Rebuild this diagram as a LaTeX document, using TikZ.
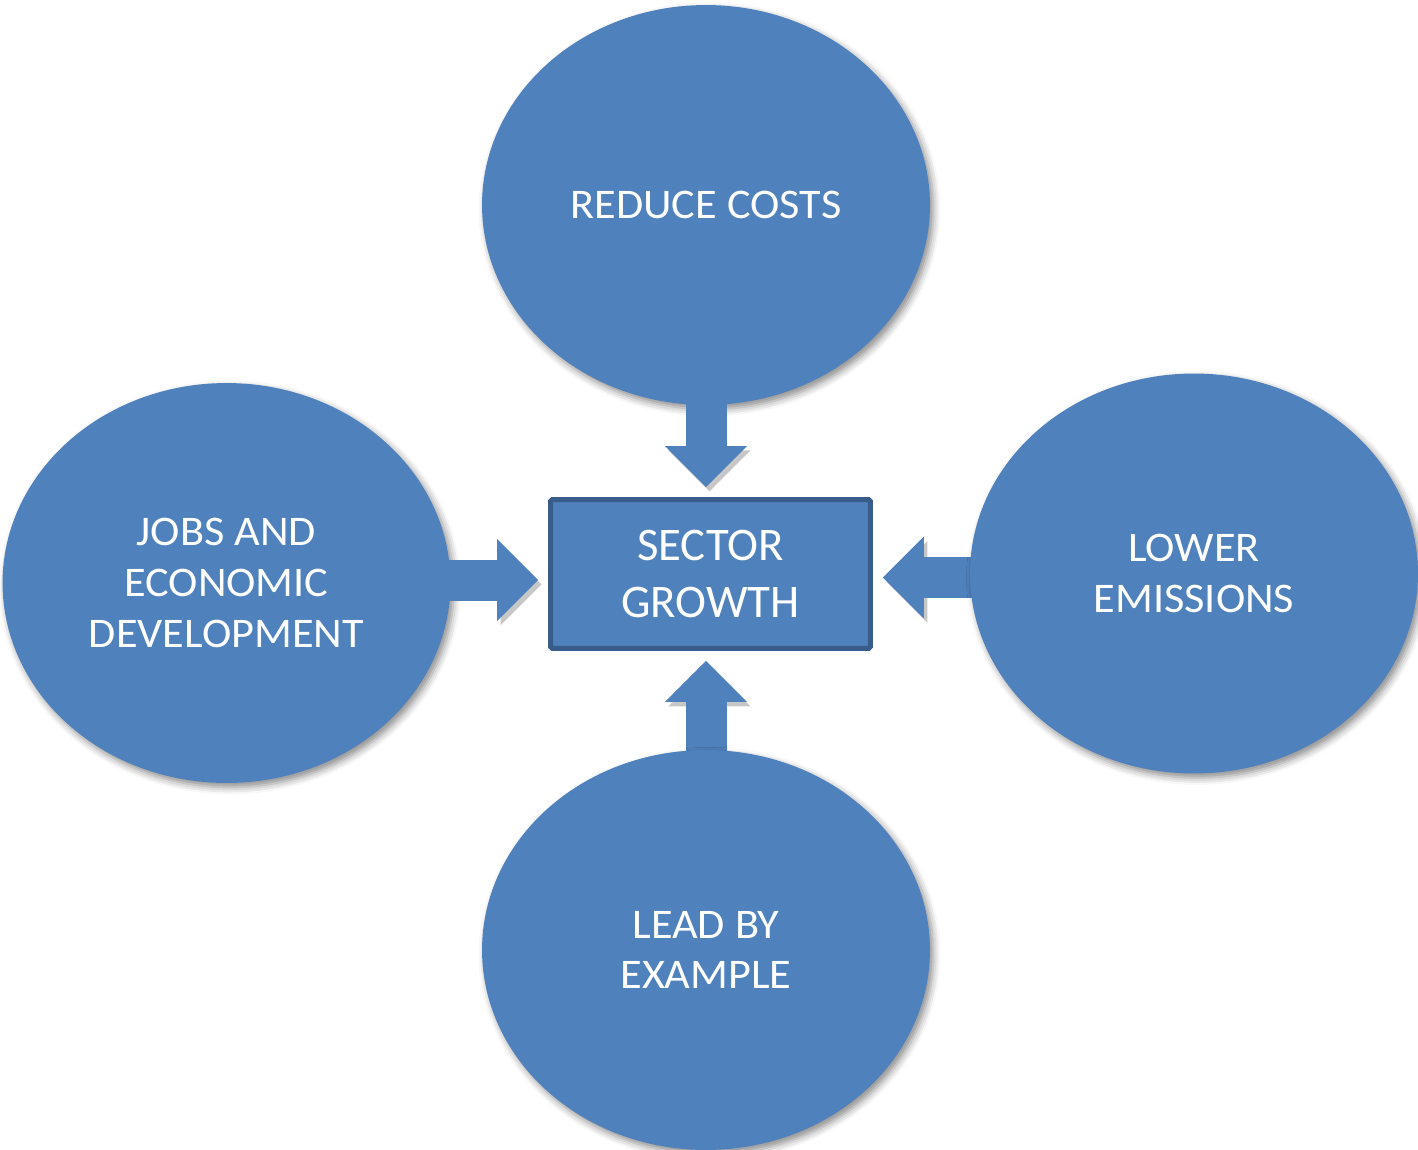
\documentclass[tikz,border=0pt]{standalone}
\usepackage{fontspec}
\setmainfont{Carlito}
\newfontfamily\goalfont[FakeStretch=1.05]{Carlito}
\usetikzlibrary{shapes.geometric,arrows.meta,shadows.blur,backgrounds}
\definecolor{goalblue}{HTML}{4F81BD}
\definecolor{goaledge}{HTML}{385D8A}
\tikzset{
  goal/.style={ellipse, fill=goalblue, minimum width=8.96cm, minimum height=8cm,
    inner sep=0pt, text=white, align=center, font=\goalfont\fontsize{24}{28.9}\selectfont,
    blur shadow={shadow xshift=2pt, shadow yshift=-2.5pt, shadow blur radius=4pt, shadow opacity=45}},
  hub/.style={rectangle, fill=goalblue, draw=goaledge, line width=0.1cm, rounded corners=1pt,
    minimum width=6.4cm, minimum height=2.98cm, text=white, align=center,
    font=\fontsize{26.6}{32.3}\selectfont},
  push/.style={draw=goalblue, line width=0.82cm, shorten <=-0.1cm, shorten >=0.2cm,
    -{Triangle[length=0.82cm, width=1.64cm, line width=0pt]},
    preaction={draw=black, opacity=0.22, transform canvas={xshift=2pt, yshift=-2.5pt}}}
}
\begin{document}
\begin{tikzpicture}[x=0.02cm, y=-0.02cm]
  \useasboundingbox (0,0) rectangle (1418,1150);

  \node[goal] (Cost) at (706,205) {REDUCE COSTS};
  \node[goal] (Jobs) at (226.5,583) {JOBS AND\\ECONOMIC\\DEVELOPMENT};
  \node[goal] (Emis) at (1194,573.5) {LOWER\\EMISSIONS};
  \node[goal] (Lead) at (706,950) {LEAD BY\\EXAMPLE};

  \node[hub] (Growth) at (710.5,574) {SECTOR\\GROWTH};

  \draw[push] (Cost.south) -- (Cost.south |- Growth.north);
  \draw[push] ([yshift=0.06cm]Jobs.east) -- ([yshift=0.06cm]Jobs.east -| Growth.west);
  % these two start under their ellipse
  \begin{scope}[on background layer]
    \draw[push] (Lead.north) -- (Lead.north |- Growth.south);
    \draw[push] ([yshift=-0.08cm]Emis.west) -- ([yshift=-0.08cm]Emis.west -| Growth.east);
  \end{scope}
\end{tikzpicture}
\end{document}
